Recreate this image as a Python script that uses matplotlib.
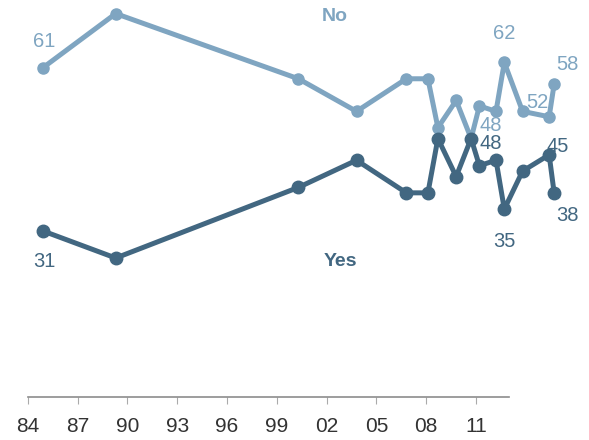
import matplotlib.pyplot as plt

# survey dates (fractional years) and shares answering No / Yes
dates = [1984.9, 1989.3, 2000.3, 2003.8, 2006.8, 2008.1, 2008.7, 2009.8,
         2010.7, 2011.2, 2012.2, 2012.7, 2013.8, 2015.4, 2015.7]
no_vals = [61, 71, 59, 53, 59, 59, 50, 55, 48, 54, 53, 62, 53, 52, 58]
yes_vals = [31, 26, 39, 44, 38, 38, 48, 41, 48, 43, 44, 35, 42, 45, 38]

tick_years = [1984, 1987, 1990, 1993, 1996, 1999, 2002, 2005, 2008, 2011]
tick_labels = ['84', '87', '90', '93', '96', '99', '02', '05', '08', '11']

# (index, offset in pixels) for the value labels
no_labels = [(0, (2, 26)), (11, (0, 29)), (14, (13, 20)), (13, (-12, 14)), (8, (20, 13))]
yes_labels = [(0, (2, -31)), (8, (20, -5)), (13, (9, 8)), (14, (13, -23)), (11, (0, -32))]

light = '#7fa5c1'
dark = '#426781'

plt.rcParams['font.family'] = ['Liberation Sans', 'DejaVu Sans']

fig = plt.figure(figsize=(5.89, 4.40), dpi=100)
ax = fig.add_axes([0, 0, 1, 1])

ax.plot(dates, no_vals, color=light, linewidth=3.6, marker='o', markersize=8,
        solid_joinstyle='round', zorder=2)
ax.plot(dates, yes_vals, color=dark, linewidth=3.6, marker='o', markersize=9,
        solid_joinstyle='round', zorder=3)

for i, off in no_labels:
    ax.annotate(str(no_vals[i]), (dates[i], no_vals[i]), xytext=off,
                textcoords='offset pixels', ha='center', va='center',
                fontsize=14.5, color=light, zorder=4)
for i, off in yes_labels:
    ax.annotate(str(yes_vals[i]), (dates[i], yes_vals[i]), xytext=off,
                textcoords='offset pixels', ha='center', va='center',
                fontsize=14.5, color=dark, zorder=4)

ax.text(2002.5, 70.4, 'No', color=light, fontsize=14, fontweight='bold',
        ha='center', va='center')
ax.text(2002.8, 25.3, 'Yes', color=dark, fontsize=14, fontweight='bold',
        ha='center', va='center')

ax.set_xlim(1982.33, 2017.8)
ax.set_ylim(-7.5, 73.5)

for side in ['top', 'right', 'left']:
    ax.spines[side].set_visible(False)
ax.spines['bottom'].set_position(('data', 0.4))
ax.spines['bottom'].set_bounds(1984, 2013)
ax.spines['bottom'].set_color('#8c8c8c')
ax.spines['bottom'].set_linewidth(1.2)

ax.set_yticks([])
ax.set_xticks(tick_years)
ax.set_xticklabels(tick_labels)
ax.tick_params(axis='x', direction='out', length=5, width=0.8, color='#aaaaaa',
               labelsize=15, labelcolor='#333333', pad=9)

fig.savefig('out.png', dpi=100)
